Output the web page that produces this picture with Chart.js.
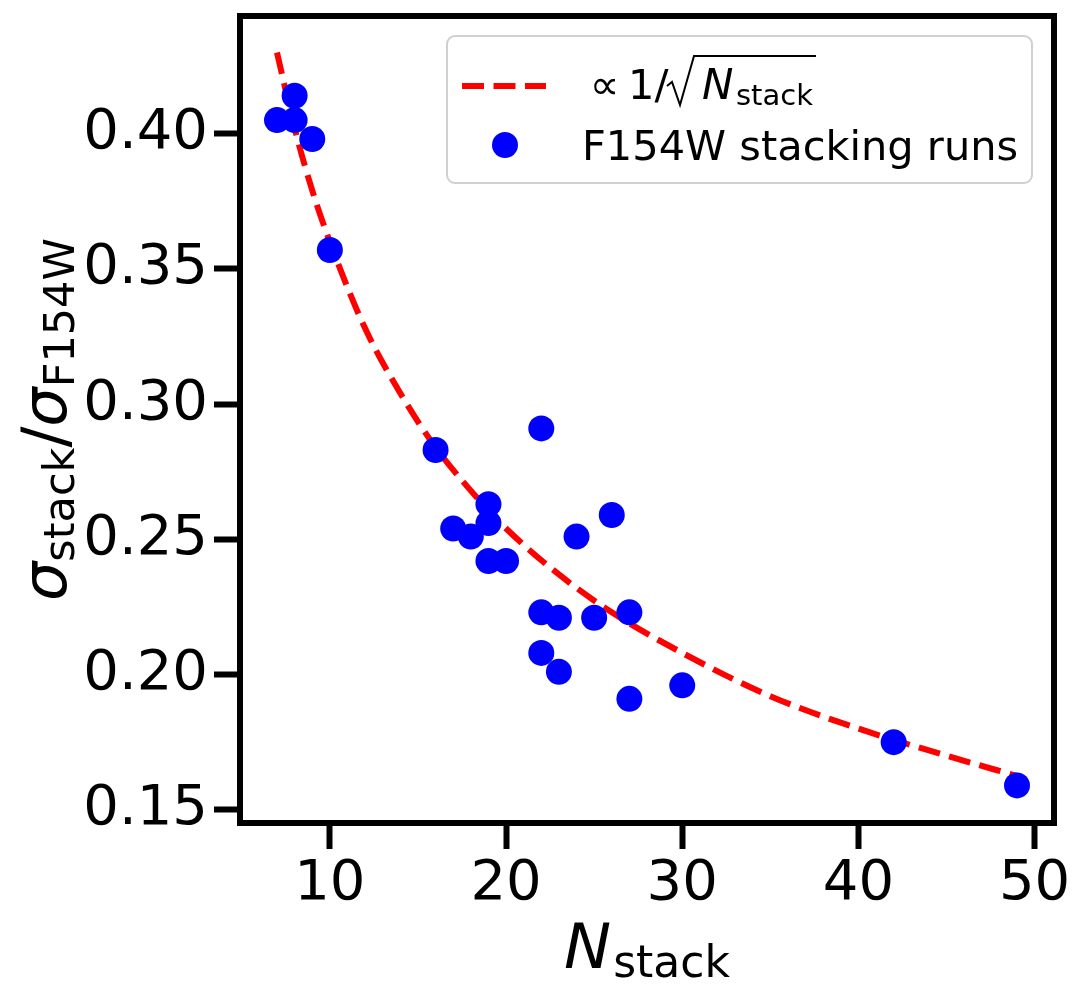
<!DOCTYPE html>
<html>
<head>
<meta charset="utf-8">
<script src="https://cdn.jsdelivr.net/npm/chart.js@4"></script>
<style>
  html, body { margin: 0; padding: 0; background: #fff; }
</style>
</head>
<body>
<canvas id="sigmaChart" width="1085" height="997"></canvas>
<script>
// stacking runs
const runN = [7, 8, 8, 9, 10, 16, 17, 18, 19, 19, 19, 20, 22, 22, 22, 23, 23, 24, 25, 26, 27, 27, 30, 42, 49];
const runSigma = [0.405, 0.414, 0.405, 0.398, 0.357, 0.283, 0.254, 0.251, 0.263, 0.256, 0.242, 0.242,
  0.291, 0.223, 0.208, 0.221, 0.201, 0.251, 0.221, 0.259, 0.223, 0.191, 0.196, 0.175, 0.159];

// dashed reference curve
const curveN = [7, 8, 9, 10, 12, 14, 16, 18, 20, 23, 26, 30, 35, 40, 45, 49];
const curveSigma = [0.430, 0.402, 0.379, 0.360, 0.328, 0.304, 0.284, 0.268, 0.254, 0.237, 0.223, 0.208,
  0.192, 0.180, 0.170, 0.1625];

const xTicks = [10, 20, 30, 40, 50];
const yTicks = [0.15, 0.20, 0.25, 0.30, 0.35, 0.40];

const FONT = "'DejaVu Sans', 'Liberation Sans', sans-serif";
const RED = "#ff0000";
const BLUE = "#0000ff";

// draw a run of text pieces (for subscripts), centred on x
function drawPieces(ctx, pieces, x, y) {
  let total = 0;
  pieces.forEach((p) => {
    ctx.font = p.font;
    p.w = ctx.measureText(p.text).width;
    total += p.w + (p.gap || 0);
  });
  let cx = x - total / 2;
  pieces.forEach((p) => {
    ctx.font = p.font;
    ctx.fillText(p.text, cx, y + (p.dy || 0));
    cx += p.w + (p.gap || 0);
  });
}

const framePlugin = {
  id: "frame",
  afterDatasetsDraw(chart) {
    const { ctx, chartArea: a } = chart;
    ctx.save();
    ctx.strokeStyle = "#000";
    ctx.lineWidth = 6;
    ctx.strokeRect(a.left, a.top, a.right - a.left, a.bottom - a.top);
    ctx.restore();
  },
  afterDraw(chart) {
    const { ctx, chartArea: a } = chart;
    ctx.save();
    ctx.fillStyle = "#000";
    ctx.textBaseline = "alphabetic";
    ctx.textAlign = "left";

    // x title: N_stack
    drawPieces(ctx, [
      { text: "N", font: "italic 63px " + FONT, gap: 2 },
      { text: "stack", font: "44px " + FONT, dy: 9 }
    ], (a.left + a.right) / 2, 968);

    // y title: sigma_stack / sigma_F154W
    ctx.save();
    ctx.translate(66, (a.top + a.bottom) / 2);
    ctx.rotate(-Math.PI / 2);
    drawPieces(ctx, [
      { text: "σ", font: "italic 62px " + FONT },
      { text: "stack", font: "43px " + FONT, dy: 8 },
      { text: "/", font: "62px " + FONT },
      { text: "σ", font: "italic 62px " + FONT },
      { text: "F154W", font: "43px " + FONT, dy: 8 }
    ], 0, 0);
    ctx.restore();

    // legend box
    const bx = 447, by = 36, bw = 585, bh = 147, r = 8;
    ctx.beginPath();
    ctx.roundRect(bx, by, bw, bh, r);
    ctx.fillStyle = "rgba(255,255,255,0.8)";
    ctx.fill();
    ctx.strokeStyle = "#d0d0d0";
    ctx.lineWidth = 2;
    ctx.stroke();

    // line sample
    ctx.beginPath();
    ctx.setLineDash([22, 9.5]);
    ctx.strokeStyle = RED;
    ctx.lineWidth = 6;
    ctx.moveTo(462, 86);
    ctx.lineTo(546, 86);
    ctx.stroke();
    ctx.setLineDash([]);

    // marker sample
    ctx.beginPath();
    ctx.arc(505, 145, 13, 0, Math.PI * 2);
    ctx.fillStyle = BLUE;
    ctx.fill();

    // labels
    ctx.fillStyle = "#000";
    ctx.font = "41.5px " + FONT;
    ctx.fillText("F154W stacking runs", 582, 160);

    ctx.font = "41.5px " + FONT;
    ctx.fillText("∝", 590, 99);
    ctx.fillText("1/", 628, 99);
    ctx.font = "italic 42px " + FONT;
    ctx.fillText("N", 702, 99);
    ctx.font = "29px " + FONT;
    ctx.fillText("stack", 736, 105);

    // radical sign with overbar
    ctx.beginPath();
    ctx.strokeStyle = "#000";
    ctx.lineWidth = 2;
    ctx.lineJoin = "miter";
    ctx.moveTo(667, 86);
    ctx.lineTo(672, 82);
    ctx.lineTo(680, 105);
    ctx.lineTo(694, 56);
    ctx.lineTo(816, 56);
    ctx.stroke();

    ctx.restore();
  }
};

new Chart(document.getElementById("sigmaChart"), {
  type: "scatter",
  data: {
    datasets: [
      {
        label: "F154W stacking runs",
        data: runN.map((n, i) => ({ x: n, y: runSigma[i] })),
        backgroundColor: BLUE,
        borderWidth: 0,
        pointRadius: 13,
        order: 0
      },
      {
        type: "line",
        label: "∝ 1/√N_stack",
        data: curveN.map((n, i) => ({ x: n, y: curveSigma[i] })),
        borderColor: RED,
        borderWidth: 6,
        borderDash: [22, 9.5],
        pointRadius: 0,
        fill: false,
        cubicInterpolationMode: "monotone",
        order: 1
      }
    ]
  },
  options: {
    responsive: false,
    animation: false,
    devicePixelRatio: 1,
    layout: { padding: { top: 16, right: 31, left: 0, bottom: 0 } },
    plugins: {
      legend: { display: false },
      tooltip: { enabled: false }
    },
    scales: {
      x: {
        type: "linear",
        min: 4.9,
        max: 51.1,
        afterBuildTicks: (s) => { s.ticks = xTicks.map((v) => ({ value: v })); },
        afterFit: (s) => { s.height = 174; s.paddingLeft = 0; s.paddingRight = 0; },
        border: { display: false },
        grid: { drawOnChartArea: false, drawTicks: true, tickLength: 26, tickWidth: 6, tickColor: "#000" },
        ticks: { color: "#000", font: { family: FONT, size: 56 }, padding: 2, maxRotation: 0, autoSkip: false }
      },
      y: {
        type: "linear",
        min: 0.1451,
        max: 0.4435,
        afterBuildTicks: (s) => { s.ticks = yTicks.map((v) => ({ value: v })); },
        afterFit: (s) => { s.width = 240; s.paddingTop = 0; s.paddingBottom = 0; },
        border: { display: false },
        grid: { drawOnChartArea: false, drawTicks: true, tickLength: 26, tickWidth: 6, tickColor: "#000" },
        ticks: {
          color: "#000",
          font: { family: FONT, size: 56 },
          padding: 6,
          autoSkip: false,
          callback: (v) => v.toFixed(2)
        }
      }
    }
  },
  plugins: [framePlugin]
});
</script>
</body>
</html>
